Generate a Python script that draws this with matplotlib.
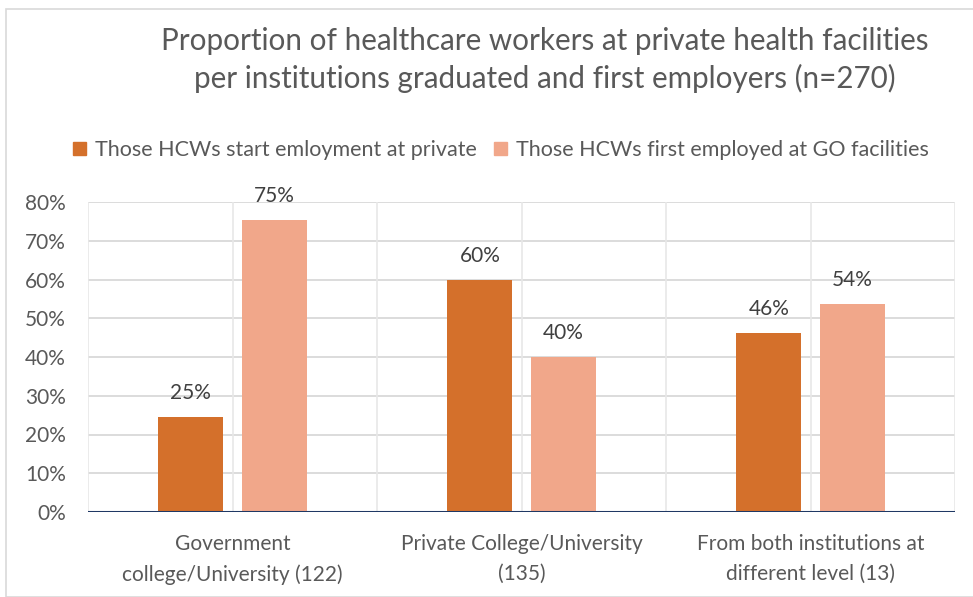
import matplotlib
matplotlib.use("Agg")
import matplotlib.pyplot as plt
from matplotlib.patches import Rectangle, Patch
import numpy as np

categories = ["Government\ncollege/University (122)",
              "Private College/University\n(135)",
              "From both institutions at\ndifferent level (13)"]
private_start = [24.6, 60.0, 46.2]
go_first = [75.4, 40.0, 53.8]
series_names = ["Those HCWs start emloyment at private",
                "Those HCWs first employed at GO facilities"]
title = ("Proportion of healthcare workers at private health facilities\n"
         "per institutions graduated and first employers (n=270)")
yticks = [0, 10, 20, 30, 40, 50, 60, 70, 80]

FONT = "Lato"
plt.rcParams['font.family'] = [FONT, 'DejaVu Sans']
C1 = "#D4702B"
C2 = "#F1A78A"
GRID = "#D9D9D9"
TXT = "#595959"

fig = plt.figure(figsize=(9.73, 5.97), dpi=100)
W, H = 973, 597
# border
fig.patches.append(Rectangle((6 / W, 0), 1.2, (H - 9) / H, transform=fig.transFigure,
                             fill=False, edgecolor="#D9D9D9", linewidth=1.2))

ax = fig.add_axes([88 / W, 85 / H, (955 - 88) / W, 310 / H])
x = np.arange(len(categories))
off = 0.144
bw = 0.225
b1 = ax.bar(x - off, private_start, bw, color=C1, zorder=3)
b2 = ax.bar(x + off, go_first, bw, color=C2, zorder=3)
for bars, vals in ((b1, private_start), (b2, go_first)):
    for r, v in zip(bars, vals):
        ax.text(r.get_x() + r.get_width() / 2, v + 3.6, f"{round(v)}%",
                ha="center", va="bottom", fontsize=15, color="#404040", clip_on=False)

ax.set_xlim(-0.5, 2.5)
ax.set_ylim(0, 80)
ax.set_yticks(yticks)
ax.set_yticklabels([f"{t}%" for t in yticks], fontsize=15, color=TXT)
ax.set_xticks(x)
ax.set_xticklabels(categories, fontsize=15, color=TXT, linespacing=1.6)
ax.tick_params(length=0)
ax.tick_params(axis='y', pad=16)
ax.tick_params(axis='x', pad=16)
for s in ax.spines.values():
    s.set_visible(False)
for yv in yticks[1:]:
    ax.axhline(yv, color=GRID, lw=1.3, zorder=1)
for xv in np.arange(-0.5, 2.51, 0.5):
    ax.axvline(xv, color="#E8E8E8", lw=1.2, zorder=1)
ax.axhline(0, color="#1F3864", lw=2.2, zorder=4)

fig.text(545 / W, 1 - 60 / H, title, ha="center", va="center", fontsize=21.3,
         color=TXT, linespacing=1.35)

handles = [Patch(color=C1), Patch(color=C2)]
fig.legend(handles, series_names, loc="center", bbox_to_anchor=(501 / W, 1 - 150 / H),
           ncol=2, frameon=False, fontsize=15.5, labelcolor=TXT, handlelength=0.6,
           handleheight=0.6, handletextpad=0.4, columnspacing=0.8)

fig.savefig("out.png", dpi=100)
